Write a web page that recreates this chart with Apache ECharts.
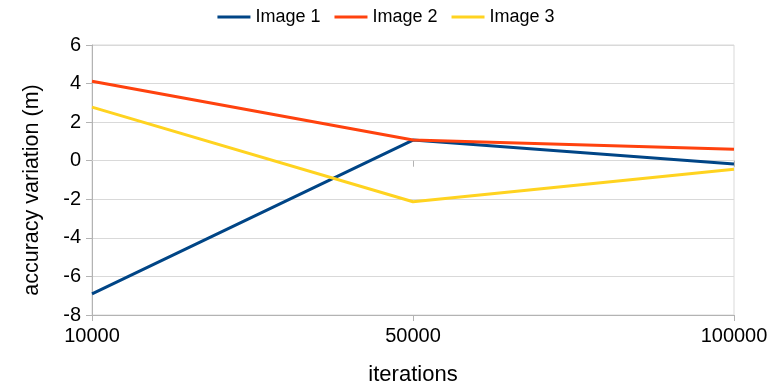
<!DOCTYPE html>
<html><head><meta charset="utf-8">
<script src="https://cdn.jsdelivr.net/npm/echarts@6/dist/echarts.min.js"></script>
<style>html,body{margin:0;padding:0;background:#fff;overflow:hidden}#c{width:772px;height:391px}</style>
</head><body><div id="c"></div>
<script>
const categories = ['10000', '50000', '100000'];
const image1 = [-6.9, 1.07, -0.17];
const image2 = [4.12, 1.07, 0.6];
const image3 = [2.78, -2.13, -0.44];
const seriesNames = ['Image 1', 'Image 2', 'Image 3'];
const colors = ['#004586', '#ff420e', '#ffd320'];

const chart = echarts.init(document.getElementById('c'), null, {renderer: 'canvas', width: 772, height: 391});
const font = 'Liberation Sans';
const mk = (name, data, color) => ({
  name, type: 'line', data, color, symbol: 'none', smooth: false,
  xAxisIndex: 0, yAxisIndex: 0,
  lineStyle: {width: 3, color}
});
chart.setOption({
  animation: false,
  textStyle: {fontFamily: font},
  legend: {
    top: 3, left: 'center', itemWidth: 33, itemHeight: 3, itemGap: 14,
    icon: 'rect',
    textStyle: {fontFamily: font, fontSize: 18, color: '#000'},
    data: seriesNames
  },
  grid: {left: 92, top: 45, width: 642, height: 272, containLabel: false,
    show: true, borderColor: '#d9d9d9', borderWidth: 1, backgroundColor: 'transparent'},
  xAxis: [{
    type: 'category', data: categories, boundaryGap: false, position: 'bottom',
    name: 'iterations', nameLocation: 'middle', nameGap: 49,
    nameTextStyle: {fontFamily: font, fontSize: 22, color: '#000'},
    axisLine: {show: true, onZero: false, lineStyle: {color: '#b3b3b3', width: 1}},
    axisTick: {show: true, length: 6, lineStyle: {color: '#b3b3b3'}},
    axisLabel: {fontFamily: font, fontSize: 20, color: '#000', margin: 11},
    splitLine: {show: false}
  }, {
    type: 'category', data: categories, boundaryGap: false, position: 'bottom',
    axisLine: {show: true, onZero: true, lineStyle: {color: '#d9d9d9', width: 1}},
    axisTick: {show: true, length: 6, lineStyle: {color: '#b3b3b3'}},
    axisLabel: {show: false},
    splitLine: {show: false}
  }],
  yAxis: {
    type: 'value', min: -8, max: 6, interval: 2,
    name: 'accuracy variation (m)', nameLocation: 'middle', nameGap: 49,
    nameTextStyle: {fontFamily: font, fontSize: 21.5, color: '#000', padding: [0, 20, 0, 0]},
    axisLine: {show: true, lineStyle: {color: '#b3b3b3', width: 1}},
    axisTick: {show: true, length: 6, lineStyle: {color: '#b3b3b3'}},
    axisLabel: {fontFamily: font, fontSize: 20, color: '#000', margin: 11},
    splitLine: {show: true, lineStyle: {color: '#d9d9d9', width: 1}}
  },
  series: [
    mk(seriesNames[0], image1, colors[0]),
    mk(seriesNames[1], image2, colors[1]),
    mk(seriesNames[2], image3, colors[2])
  ]
});
</script></body></html>
